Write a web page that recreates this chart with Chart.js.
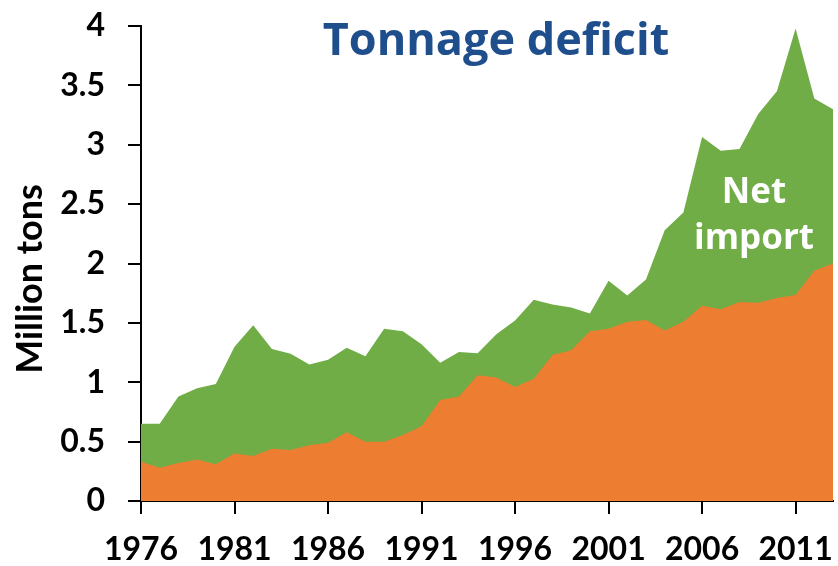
<!DOCTYPE html>
<html>
<head>
<meta charset="utf-8">
<script src="https://cdn.jsdelivr.net/npm/chart.js@4.4.1/dist/chart.umd.min.js"></script>
<style>
  html, body { margin: 0; padding: 0; background: #ffffff; }
  #wrap { width: 838px; height: 566px; position: relative; }
</style>
</head>
<body>
<div id="wrap"><canvas id="c" width="838" height="566"></canvas></div>
<script>
const chartTitle = "Tonnage deficit";
const yAxisTitle = "Million tons";
const areaLabel = ["Net", "import"];
const years = [
  1976, 1977, 1978, 1979, 1980, 1981, 1982, 1983, 1984, 1985,
  1986, 1987, 1988, 1989, 1990, 1991, 1992, 1993, 1994, 1995,
  1996, 1997, 1998, 1999, 2000, 2001, 2002, 2003, 2004, 2005,
  2006, 2007, 2008, 2009, 2010, 2011, 2012, 2013
];
// domestic production (orange area)
const production = [
  0.33, 0.28, 0.32, 0.35, 0.31, 0.40, 0.38, 0.44, 0.43, 0.47,
  0.49, 0.58, 0.50, 0.50, 0.555, 0.63, 0.85, 0.88, 1.06, 1.04,
  0.96, 1.03, 1.23, 1.27, 1.43, 1.45, 1.51, 1.525, 1.435, 1.51,
  1.645, 1.615, 1.675, 1.67, 1.71, 1.735, 1.94, 2.0
];
// production + net import (top of green area)
const totalDemand = [
  0.65, 0.65, 0.88, 0.95, 0.985, 1.30, 1.48, 1.28, 1.24, 1.15,
  1.19, 1.29, 1.22, 1.45, 1.43, 1.32, 1.165, 1.255, 1.245, 1.405,
  1.52, 1.695, 1.655, 1.63, 1.58, 1.855, 1.73, 1.865, 2.28, 2.43,
  3.065, 2.95, 2.965, 3.26, 3.45, 3.98, 3.39, 3.30
];
const yTicks = [0, 0.5, 1, 1.5, 2, 2.5, 3, 3.5, 4];
const labelEvery = 5;

const ORANGE = "#ED7D31";
const GREEN = "#70AD47";
const BLUE = "#1F4E8C";
const tickFont = { family: "Lato", size: 32, weight: "bold" };

const textPlugin = {
  id: "textPlugin",
  afterDraw(chart) {
    const ctx = chart.ctx;
    ctx.save();
    ctx.textAlign = "center";
    ctx.textBaseline = "alphabetic";
    ctx.fillStyle = BLUE;
    ctx.font = "bold 45px 'Open Sans'";
    ctx.fillText(chartTitle, 496, 55);
    ctx.fillStyle = "#ffffff";
    ctx.font = "bold 35px 'Open Sans'";
    ctx.fillText(areaLabel[0], 754, 203);
    ctx.fillText(areaLabel[1], 754, 249);
    ctx.translate(41.5, 279);
    ctx.rotate(-Math.PI / 2);
    ctx.fillStyle = "#000000";
    ctx.font = "bold 36px Lato";
    ctx.fillText(yAxisTitle, 0, 0);
    ctx.restore();
  }
};

new Chart(document.getElementById("c"), {
  type: "line",
  data: {
    labels: years,
    datasets: [
      { label: "Production", data: production, backgroundColor: ORANGE, borderWidth: 0, pointRadius: 0, fill: "origin", tension: 0 },
      { label: "Net import", data: totalDemand, backgroundColor: GREEN, borderWidth: 0, pointRadius: 0, fill: "origin", tension: 0 }
    ]
  },
  options: {
    responsive: false,
    animation: false,
    events: [],
    layout: { padding: { left: 0, right: 5, top: 26, bottom: 0 } },
    plugins: { legend: { display: false }, tooltip: { enabled: false }, title: { display: false } },
    scales: {
      x: {
        type: "category",
        offset: false,
        afterFit(scale) { scale.height = 65; scale.paddingLeft = 0; scale.paddingRight = 0; },
        border: { display: true, color: "#000000", width: 2 },
        grid: {
          drawOnChartArea: false, drawTicks: true, tickLength: 13, lineWidth: 2,
          color: (c) => (c.index % labelEvery === 0 ? "#000000" : "rgba(0,0,0,0)")
        },
        ticks: {
          autoSkip: false, maxRotation: 0, minRotation: 0, padding: 16, color: "#000000", font: tickFont,
          callback: function (value, index) { return index % labelEvery === 0 ? String(years[index]) : ""; }
        }
      },
      y: {
        min: 0, max: 4,
        afterFit(scale) { scale.width = 141; scale.paddingTop = 0; scale.paddingBottom = 0; },
        afterBuildTicks(scale) { scale.ticks = yTicks.map(v => ({ value: v })); },
        border: { display: true, color: "#000000", width: 2 },
        grid: { drawOnChartArea: false, drawTicks: true, tickLength: 13, lineWidth: 2, color: "#000000" },
        ticks: { padding: 23, color: "#000000", font: tickFont, callback: (v) => String(v) }
      }
    }
  },
  plugins: [textPlugin]
});
</script>
</body>
</html>
